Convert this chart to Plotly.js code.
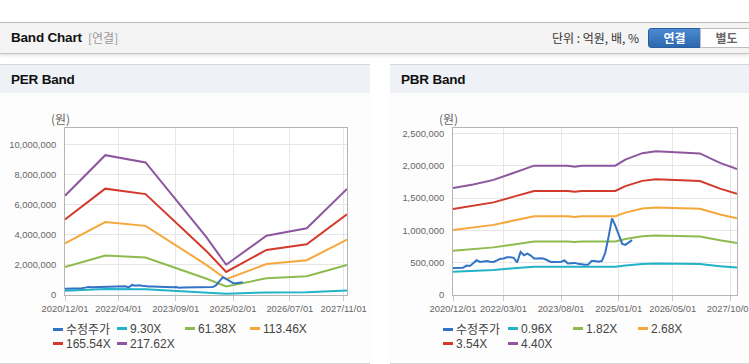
<!DOCTYPE html>
<html><head><meta charset="utf-8">
<script src="https://cdn.plot.ly/plotly-3.0.1.min.js"></script>
<style>
html,body{margin:0;padding:0;width:749px;height:364px;overflow:hidden;background:#fff;font-family:"Liberation Sans","Noto Sans CJK KR",sans-serif;}
.abs{position:absolute;}
#hdr{left:0;top:22px;width:749px;height:30px;background:#f4f4f4;border-top:1px solid #bcbcbc;border-bottom:1px solid #c6c6c6;box-shadow:0 2px 3px rgba(0,0,0,0.10);}
.ttl{font-weight:bold;font-size:13.5px;color:#111;letter-spacing:-0.2px;}
.kr{font-family:"Noto Sans CJK KR",sans-serif;}
.panel{top:64px;height:298px;background:#fdfdfd;border-top:1px solid #d6d6d6;border-bottom:1px solid #d6d6d6;}
.phead{left:0;top:0;height:28px;background:#eef1f6;}
.btn{top:28px;height:18px;width:51px;font-size:12px;font-weight:bold;text-align:center;line-height:18px;font-family:"Noto Sans CJK KR",sans-serif;}
.lg{font-size:12px;color:#444;line-height:14px;white-space:nowrap;}
.sym{display:inline-block;width:10px;height:3px;vertical-align:middle;margin-right:3px;position:relative;top:-1px;}
</style></head><body>
<div id="hdr" class="abs">
  <div class="abs ttl" style="left:11px;top:7px;">Band Chart</div>
  <div class="abs kr" style="left:88px;top:6px;font-size:12px;color:#999;">[연결]</div>
  <div class="abs kr" style="left:552px;top:6px;font-size:12px;color:#333;">단위 : 억원, 배, %</div>
</div>
<div class="abs btn" style="left:648px;background:linear-gradient(#4b8ad2,#2c68ae);border:1px solid #2a5f9f;border-radius:3px 0 0 3px;color:#fff;">연결</div>
<div class="abs btn" style="left:700px;background:#fff;border:1px solid #bdbdbd;color:#666;">별도</div>

<div id="pl" class="abs panel" style="left:0;width:370px;">
  <div class="abs phead" style="width:370px;"></div>
  <div class="abs ttl" style="left:11px;top:7px;">PER Band</div>
</div>
<div id="pr" class="abs panel" style="left:390px;width:359px;">
  <div class="abs phead" style="width:359px;"></div>
  <div class="abs ttl" style="left:11px;top:7px;">PBR Band</div>
</div>
<div id="perChart" class="abs" style="left:0;top:93px;width:370px;height:270px;"></div>
<div id="pbrChart" class="abs" style="left:390px;top:93px;width:359px;height:270px;"></div>
<div id="legL"></div>
<div id="legR"></div>

<script>
// ---------- DATA ----------
var priceDates = ['2020-12-01','2021-01-01','2021-02-01','2021-03-01','2021-04-01','2021-05-01','2021-06-01','2021-07-01','2021-08-01','2021-09-01','2021-10-01','2021-11-01',
 '2021-12-01','2022-01-01','2022-02-01','2022-03-01','2022-04-01','2022-05-01','2022-06-01','2022-07-01','2022-08-01','2022-09-01','2022-10-01','2022-11-01',
 '2022-12-01','2023-01-01','2023-02-01','2023-03-01','2023-04-01','2023-05-01','2023-06-01','2023-07-01','2023-08-01','2023-09-01','2023-10-01','2023-11-01',
 '2023-12-01','2024-01-01','2024-02-01','2024-03-01','2024-04-01','2024-05-01','2024-06-01','2024-07-01','2024-08-01','2024-09-01','2024-10-01','2024-11-01',
 '2024-12-01','2025-01-01','2025-02-01','2025-03-01','2025-04-01','2025-05-01'];
var price = [419000,419000,422000,420000,455000,450000,490000,539000,512000,520000,525000,515000,
 512000,535000,560000,565000,585000,585000,575000,503000,668000,615000,640000,610000,
 565000,565000,570000,560000,530000,512000,510000,512000,515000,535000,487000,492000,
 497000,482000,471000,470000,471000,525000,525000,515000,525000,650000,900000,1186000,
 1075000,920000,790000,775000,810000,849000];

// PER band
var perDates = ['2020-12-01','2021-12-01','2022-12-01','2023-12-01','2024-06-01','2024-12-01','2025-12-01','2026-12-01','2027-12-01'];
var per930   = [281790,397110,376650,236220,165540,86025,168330,189720,301320];
var per6138  = [1859814,2620926,2485890,1559052,1092564,567765,1110978,1252152,1988712];
var per11346 = [3437838,4844742,4595130,2881884,2019588,1049505,2053626,2314584,3676104];
var per16554 = [5015862,7068558,6704370,4204716,2946612,1531245,2996274,3377016,5363496];
var per21762 = [6593886,9292374,8813610,5527548,3873636,2012985,3938922,4439448,7050888];
var perNames = ['수정주가','9.30X','61.38X','113.46X','165.54X','217.62X'];
var perTickVals = ['2020-12-01','2022-04-01','2023-09-01','2025-02-01','2026-07-01','2027-11-01'];
var perTickText = ['2020/12/01','2022/04/01','2023/09/01','2025/02/01','2026/07/01','2027/11/01'];

// PBR band
var pbrDates = ['2020-12-01','2021-06-01','2021-12-01','2022-06-01','2022-12-01','2023-10-01','2023-12-01','2024-02-01','2024-12-01','2025-03-01','2025-08-01','2025-12-01','2026-07-01','2027-01-01','2027-07-01','2027-12-01'];
var pbr096 = [360960,373440,388800,412800,436800,436800,432960,436800,436800,456960,479040,485760,482880,478080,446400,425280];
var pbr182 = [684320,707980,737100,782600,828100,828100,820820,828100,828100,866320,908180,920920,915460,906360,846300,806260];
var pbr268 = [1007680,1042520,1085400,1152400,1219400,1219400,1208680,1219400,1219400,1275680,1337320,1356080,1348040,1334640,1246200,1187240];
var pbr354 = [1331040,1377060,1433700,1522200,1610700,1610700,1596540,1610700,1610700,1685040,1766460,1791240,1780620,1762920,1646100,1568220];
var pbr440 = [1654400,1711600,1782000,1892000,2002000,2002000,1984400,2002000,2002000,2094400,2195600,2226400,2213200,2191200,2046000,1949200];
var pbrNames = ['수정주가','0.96X','1.82X','2.68X','3.54X','4.40X'];
var pbrTickVals = ['2020-12-01','2022-03-01','2023-08-01','2025-01-01','2026-05-01','2027-10-01'];
var pbrTickText = ['2020/12/01','2022/03/01','2023/08/01','2025/01/01','2026/05/01','2027/10/01'];

var colors = ['#3273c6','#22b3c8','#8dbb4e','#f5a73a','#d23a2c','#8d569f'];

// ---------- CHARTS ----------
var tickFont = {family:'"Liberation Sans",sans-serif', size:9.4, color:'#666'};
function line(x,y,c){return {x:x,y:y,type:'scatter',mode:'lines',line:{color:c,width:2},hoverinfo:'skip'};}

function makeChart(id, bandDates, bands, tv, tt, yMax, yDtick, ml, mr){
  var traces = [];
  for (var i=0;i<bands.length;i++) traces.push(line(bandDates, bands[i], colors[i+1]));
  traces.push(line(priceDates, price, colors[0]));
  var layout = {
    width: (id==='perChart'?370:359), height:270,
    margin:{l:ml, r:mr, t:35, b:68},
    paper_bgcolor:'rgba(0,0,0,0)', plot_bgcolor:'#ffffff',
    showlegend:false,
    xaxis:{type:'date', range:['2020-12-01','2027-12-01'], tickvals:tv, ticktext:tt, tickangle:0, automargin:false,
      ticklabeloverflow:'allow',
      showgrid:true, gridcolor:'#e6e6e6', showline:true, mirror:true, linecolor:'#b5b5b5', linewidth:1,
      ticks:'outside', ticklen:5, tickcolor:'#c8c8c8', tickfont:tickFont, zeroline:false, fixedrange:true},
    yaxis:{range:[0,yMax], dtick:yDtick, tick0:0, tickformat:',d', automargin:false,
      showgrid:true, gridcolor:'#e6e6e6', showline:true, mirror:true, linecolor:'#b5b5b5', linewidth:1,
      ticks:'', ticklabelstandoff:6, tickfont:tickFont, zeroline:false, fixedrange:true},
    annotations:[{xref:'paper', yref:'paper', x:0, y:1, xanchor:'center', yanchor:'middle',
      xshift:-5, yshift:10, showarrow:false, text:'(원)',
      font:{family:'"Noto Sans CJK KR",sans-serif', size:12, color:'#666'}}]
  };
  Plotly.newPlot(id, traces, layout, {staticPlot:true, displayModeBar:false});
}

makeChart('perChart', perDates, [per930,per6138,per11346,per16554,per21762], perTickVals, perTickText, 11.1e6, 2e6, 65, 23);
makeChart('pbrChart', pbrDates, [pbr096,pbr182,pbr268,pbr354,pbr440], pbrTickVals, pbrTickText, 2.585e6, 5e5, 63, 12);

// ---------- LEGENDS ----------
function legend(hostId, names, cols){
  var host = document.getElementById(hostId);
  var rows = [322, 337];
  for (var i=0;i<names.length;i++){
    var d = document.createElement('div');
    d.className = 'abs lg';
    d.style.left = cols[i%4] + 'px';
    d.style.top = rows[Math.floor(i/4)] + 'px';
    var kr = /[가-힣]/.test(names[i]);
    d.innerHTML = '<span class="sym" style="background:'+colors[i]+'"></span><span style="font-family:'+(kr?'\'Noto Sans CJK KR\'':'\'Liberation Sans\'')+'">'+names[i]+'</span>';
    host.appendChild(d);
  }
}
legend('legL', perNames, [53,117,185,250]);
legend('legR', pbrNames, [443,508,573,638]);
</script>
</body></html>
